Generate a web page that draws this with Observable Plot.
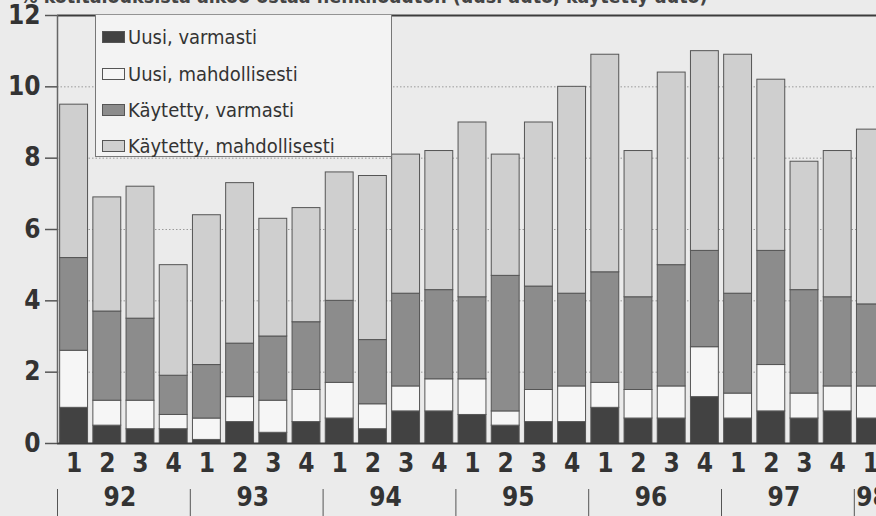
<!DOCTYPE html>
<html>
<head>
<meta charset="utf-8">
<script src="https://cdn.jsdelivr.net/npm/d3@7"></script>
<script src="https://cdn.jsdelivr.net/npm/@observablehq/plot@0.6"></script>
<style>
  html, body { margin: 0; padding: 0; background: #ebebeb; overflow: hidden; }
  #wrap { position: relative; width: 876px; height: 516px; overflow: hidden; }
  .cf { font-family: "DejaVu Sans Condensed", "Liberation Sans Narrow", "Roboto", sans-serif; color: #333; }
  #title { position: absolute; left: 20px; top: -15px; font-size: 19.5px; font-weight: bold; white-space: nowrap; color: #444; }
  #legend { position: absolute; left: 95px; top: 15px; width: 297px; height: 142px; background: #f3f3f3;
            border: 1px solid #777; border-top: none; box-sizing: border-box; }
  .item { position: absolute; left: 6px; display: flex; align-items: center; font-size: 20px; }
  .sw { width: 23px; height: 12px; border: 1px solid #555; margin-right: 3px; box-sizing: border-box; }
</style>
</head>
<body>
<div id="wrap">
  <div id="title" class="cf">% kotitalouksista aikoo ostaa henkilöauton (uusi auto, käytetty auto)</div>
  <div id="chart"></div>
  <div id="legend" class="cf"></div>
</div>
<script>
// Quarters 1992Q1 – 1998Q1
const quarters = ["92Q1","92Q2","92Q3","92Q4","93Q1","93Q2","93Q3","93Q4","94Q1","94Q2","94Q3","94Q4",
  "95Q1","95Q2","95Q3","95Q4","96Q1","96Q2","96Q3","96Q4","97Q1","97Q2","97Q3","97Q4","98Q1"];
const quarterLabels = ["1","2","3","4","1","2","3","4","1","2","3","4","1","2","3","4","1","2","3","4","1","2","3","4","1"];
const years = ["92","93","94","95","96","97","98"];
const seriesNames = ["Uusi, varmasti","Uusi, mahdollisesti","Käytetty, varmasti","Käytetty, mahdollisesti"];
const seriesColors = ["#424242","#f6f6f6","#8c8c8c","#cfcfcf"];

const uusiVarmasti        = [1.0,0.5,0.4,0.4,0.1,0.6,0.3,0.6,0.7,0.4,0.9,0.9,0.8,0.5,0.6,0.6,1.0,0.7,0.7,1.3,0.7,0.9,0.7,0.9,0.7];
const uusiMahdollisesti   = [1.6,0.7,0.8,0.4,0.6,0.7,0.9,0.9,1.0,0.7,0.7,0.9,1.0,0.4,0.9,1.0,0.7,0.8,0.9,1.4,0.7,1.3,0.7,0.7,0.9];
const kaytettyVarmasti    = [2.6,2.5,2.3,1.1,1.5,1.5,1.8,1.9,2.3,1.8,2.6,2.5,2.3,3.8,2.9,2.6,3.1,2.6,3.4,2.7,2.8,3.2,2.9,2.5,2.3];
const kaytettyMahdollisesti=[4.3,3.2,3.7,3.1,4.2,4.5,3.3,3.2,3.6,4.6,3.9,3.9,4.9,3.4,4.6,5.8,6.1,4.1,5.4,5.6,6.7,4.8,3.6,4.1,4.9];
const yTicks = [0,2,4,6,8,10,12];

const seriesValues = [uusiVarmasti, uusiMahdollisesti, kaytettyVarmasti, kaytettyMahdollisesti];
const data = seriesNames.flatMap((s, si) => quarters.map((q, i) => ({q, s, v: seriesValues[si][i]})));

const W = 876, H = 516;
const xRange = [57, 887];
const step = (xRange[1] - xRange[0]) / quarters.length;
const font = '"DejaVu Sans Condensed", "Liberation Sans Narrow", "Roboto", sans-serif';

const yearStarts = quarters.filter(q => q.endsWith("Q1"));
const yearMid = quarters.filter(q => q.endsWith("Q2"));
const yearRows = years.slice(0, 6).map((y, i) => ({y, q: yearMid[i]}));
const lastYear = [{y: years[6], q: yearStarts[6]}];

const chart = Plot.plot({
  width: W, height: H,
  marginLeft: 57, marginRight: 0, marginTop: 15, marginBottom: 73,
  style: {background: "#ebebeb", fontFamily: font, color: "#333"},
  x: {domain: quarters, range: xRange, paddingInner: 0.16, paddingOuter: 0.08, align: 0.5, round: false, axis: null},
  y: {domain: [0, 12], axis: null},
  color: {domain: seriesNames, range: seriesColors},
  marks: [
    Plot.ruleY([2,4,6,8,10], {stroke: "#9a9a9a", strokeWidth: 1, strokeDasharray: "1.5,2"}),
    Plot.barY(data, {x: "q", y: "v", fill: "s", stroke: "#555", strokeWidth: 1}),
    Plot.ruleY([0, 12], {stroke: "#3c3c3c", strokeWidth: 2.2}),
    Plot.ruleX([quarters[0]], {dx: -step / 2, stroke: "#666", strokeWidth: 1.5}),
    Plot.axisY({ticks: yTicks, tickSize: 12, tickPadding: 5, fontSize: 26, fontWeight: "bold", stroke: "#555", strokeWidth: 1.5, fill: "#333", label: null}),
    Plot.text(quarters, {x: d => d, text: (d, i) => quarterLabels[i], frameAnchor: "bottom", dy: 28, fontSize: 26, fontWeight: "bold", fill: "#333"}),
    Plot.text(yearRows, {x: "q", text: "y", frameAnchor: "bottom", dy: 62, dx: step / 2 - 4, fontSize: 26, fontWeight: "bold", fill: "#333"}),
    Plot.text(lastYear, {x: "q", text: "y", frameAnchor: "bottom", dy: 62, dx: -step / 2 + 2, textAnchor: "start", fontSize: 26, fontWeight: "bold", fill: "#333"}),
    Plot.ruleX(yearStarts, {dx: -step / 2, insetTop: 474, insetBottom: -73, stroke: "#555", strokeWidth: 1})
  ]
});
document.getElementById("chart").appendChild(chart);

// Legend inside plot area (top-left)
const legend = document.getElementById("legend");
const rowTops = [10, 47, 83, 119];
seriesNames.forEach((s, i) => {
  const item = document.createElement("div");
  item.className = "item";
  item.style.top = rowTops[i] + "px";
  const sw = document.createElement("span");
  sw.className = "sw";
  sw.style.background = seriesColors[i];
  const t = document.createElement("span");
  t.textContent = s;
  item.appendChild(sw); item.appendChild(t);
  legend.appendChild(item);
});
</script>
</body>
</html>
